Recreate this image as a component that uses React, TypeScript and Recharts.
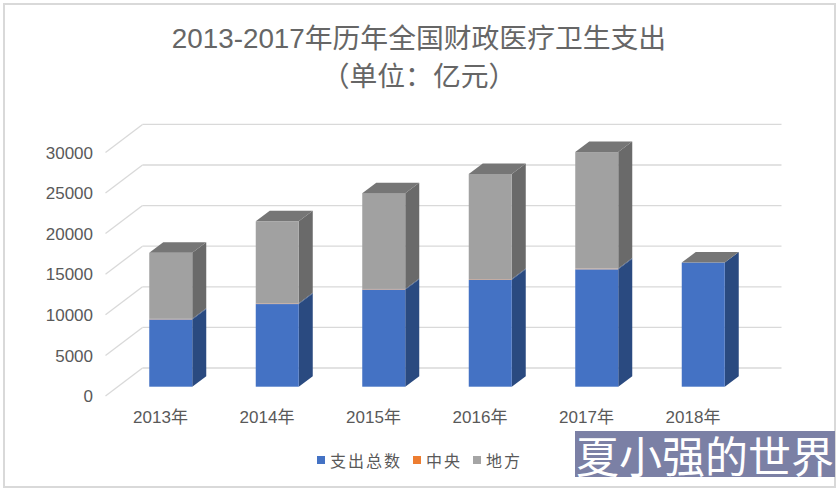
import React from 'react';
import { BarChart, Bar, XAxis, YAxis, CartesianGrid, Legend } from 'recharts';

const categories = ['2013年', '2014年', '2015年', '2016年', '2017年', '2018年'];
const totalSpend = [8280, 10177, 11953, 13159, 14451, 15291];
const central = [76, 90, 85, 92, 107, 0];
const local = [8130, 10100, 11800, 12950, 14340, 0];
const yTicks = [0, 5000, 10000, 15000, 20000, 25000, 30000];

const rows = categories.map((name, i) => ({
  name,
  total: totalSpend[i],
  central: central[i],
  local: local[i],
}));

const FONT = '"Liberation Sans","Noto Sans CJK SC",sans-serif';
const TEXT = '#595959';
const GRID = '#d9d9d9';
const DX = 14;
const DY = 10.5;

const Box = (props: any) => {
  const { x, y, width, height, front, side, top } = props;
  if (x == null || y == null) return null;
  const r = x + width;
  const b = y + height;
  return (
    <g stroke="none">
      <polygon points={`${r},${y} ${r + DX},${y - DY} ${r + DX},${b - DY} ${r},${b}`} fill={side} stroke="none" />
      {height > 0 && <rect x={x} y={y} width={width} height={height} fill={front} stroke="none" />}
      {top && <polygon points={`${x},${y} ${x + DX},${y - DY} ${r + DX},${y - DY} ${r},${y}`} fill={top} stroke="none" />}
    </g>
  );
};

const GridLine = (props: any) => {
  const { x1, x2, y1 } = props;
  return (
    <g stroke={GRID} strokeWidth={1.3} fill="none">
      <line x1={x1 + 25.25} x2={x2 + 25.25} y1={y1 - 18.7} y2={y1 - 18.7} />
      <line x1={x1 - 11.75} x2={x1 + 25.25} y1={y1 + 9.3} y2={y1 - 18.7} />
    </g>
  );
};

const YTick = (props: any) => {
  const { y, payload } = props;
  return (
    <text x={93} y={y + 9.5} dy={6} textAnchor="end" fontSize={17} fontFamily={FONT} fill={TEXT}>
      {payload.value}
    </text>
  );
};

const XTick = (props: any) => {
  const { x, y, payload } = props;
  return (
    <text x={x - 10} y={y + 28} textAnchor="middle" fontSize={17} fontFamily={FONT} fill={TEXT}>
      {payload.value}
    </text>
  );
};

const LegendBox = (props: any) => (
  <div style={{ position: 'absolute', left: 317, top: 0, display: 'flex', whiteSpace: 'nowrap', fontFamily: FONT, fontSize: 16, color: TEXT, letterSpacing: 2 }}>
    {(props.payload || []).map((p: any) => (
      <span key={p.value} style={{ display: 'inline-flex', alignItems: 'center', marginRight: 11 }}>
        <span style={{ width: 8, height: 8, background: p.color, marginRight: 5, display: 'inline-block' }} />
        {p.value}
      </span>
    ))}
  </div>
);

export default function App() {
  return (
    <div style={{ position: 'absolute', left: 0, top: 0, width: 840, height: 492, background: '#fff', overflow: 'hidden' }}>
      <div style={{ position: 'absolute', left: 3, top: 3, width: 833, height: 485, border: '2px solid #d9d9d9', boxSizing: 'border-box' }} />
      <div style={{ position: 'absolute', left: 0, top: 20, width: 838, textAlign: 'center', fontFamily: FONT, fontSize: 27.8, lineHeight: '38px', color: '#666666' }}>
        2013-2017年历年全国财政医疗卫生支出
        <br />
        （单位：亿元）
      </div>
      <BarChart
        width={840}
        height={492}
        data={rows}
        barSize={43}
        style={{ position: 'absolute', left: 0, top: 0 }}
        margin={{ left: 93.25, right: 83.75, top: 143.1, bottom: 75.3 }}
      >
        <CartesianGrid vertical={false} horizontal={(p: any) => <GridLine {...p} />} />
        <XAxis
          dataKey="name"
          axisLine={false}
          tickLine={false}
          height={30}
          tick={(p: any) => <XTick {...p} />}
        />
        <YAxis
          domain={[0, 30000]}
          ticks={yTicks}
          axisLine={false}
          tickLine={false}
          width={24}
          tick={(p: any) => <YTick {...p} />}
        />
        <Legend
          layout="horizontal"
          verticalAlign="middle"
          itemSorter={null}
          content={(p: any) => <LegendBox {...p} />}
          wrapperStyle={{ position: 'absolute', left: 0, top: 448, width: 840 }}
        />
        <Bar dataKey="total" name="支出总数" stackId="a" fill="#4472c4" isAnimationActive={false}
          shape={(p: any) => <Box {...p} front="#4472c4" side="#2a4a80" />} />
        <Bar dataKey="central" name="中央" stackId="a" fill="#ed7d31" isAnimationActive={false}
          shape={(p: any) => <Box {...p} front="#c09a88" side="#2a4a80" />} />
        <Bar dataKey="local" name="地方" stackId="a" fill="#a5a5a5" isAnimationActive={false}
          shape={(p: any) => <Box {...p} front="#a1a1a1" side="#6a6a6a" top="#767676" />} />
      </BarChart>
      <div style={{ position: 'absolute', left: 575, top: 431, width: 260, height: 46, background: '#7b80a5', color: '#fff', fontFamily: '"Noto Sans CJK SC",serif', fontWeight: 400, fontSize: 43, lineHeight: '46px', textAlign: 'center', whiteSpace: 'nowrap' }}>
        夏小强的世界
      </div>
    </div>
  );
}
